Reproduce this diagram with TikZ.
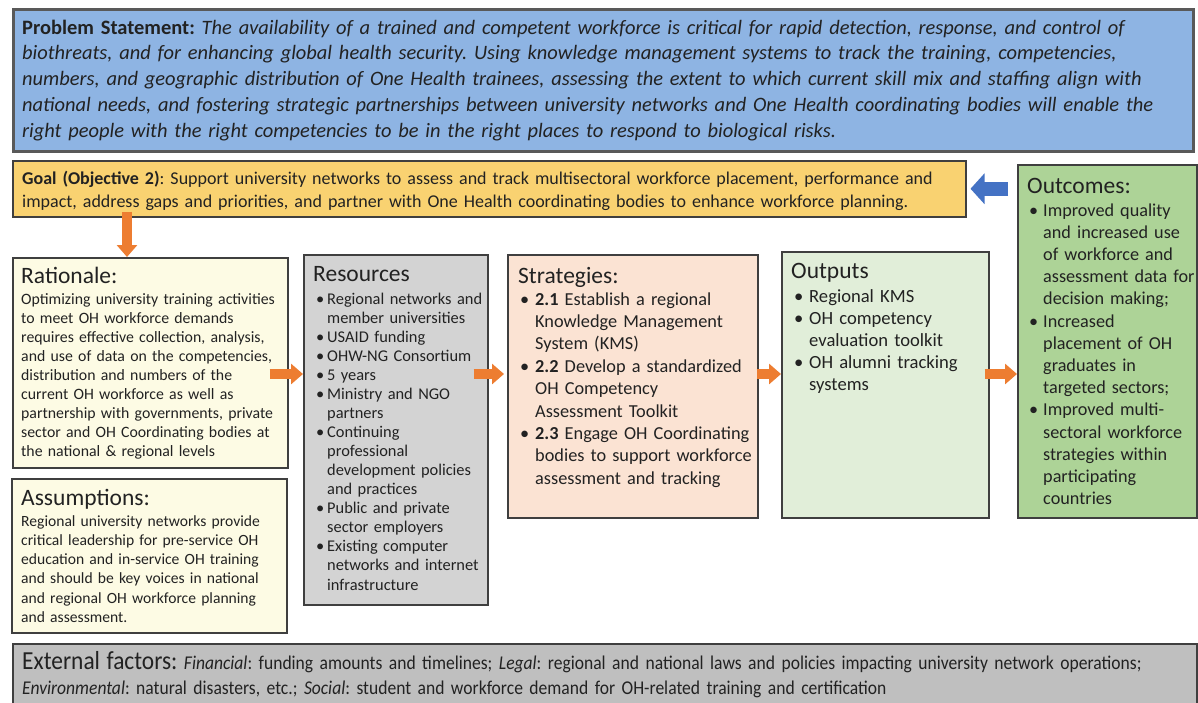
\documentclass[tikz,border=0pt]{standalone}
\usepackage{fontspec}
\setmainfont{Carlito}
\newfontfamily\narrowfont{Carlito}[FakeStretch=0.9]
\usetikzlibrary{arrows.meta}
\frenchspacing
\hyphenpenalty=10000
\exhyphenpenalty=10000

\definecolor{probfill}{HTML}{8EB4E3}
\definecolor{goalfill}{HTML}{F9D271}
\definecolor{ratfill}{HTML}{FDFBE4}
\definecolor{resfill}{HTML}{D3D3D3}
\definecolor{strfill}{HTML}{FBE3D3}
\definecolor{outfill}{HTML}{E1EED9}
\definecolor{ocfill}{HTML}{ADD397}
\definecolor{extfill}{HTML}{BFBFBF}
\definecolor{arrorange}{HTML}{ED7D31}
\definecolor{arrblue}{HTML}{4472C4}
\definecolor{edgecol}{HTML}{3F3F3F}
\definecolor{inkcol}{HTML}{222222}

% bullet item with hanging indent; \\ inside an item breaks the line only
\newcommand{\bul}[2][15pt]{\hangindent=#1\hangafter=1\noindent\makebox[#1][l]{\textbullet}{\let\\\newline #2}\par}

\tikzset{
  panel/.style={draw=edgecol, line width=1.5pt, inner sep=0pt, anchor=north west},
  txt/.style={inner sep=0pt, anchor=base west, align=left, text=inkcol},
  headtxt/.style={txt, font=\fontsize{23.5}{26}\selectfont},
  bodytxt/.style={txt, text width=#1},
  flowarrow/.style={draw=arrorange, line width=10pt,
    -{Triangle[width=20pt,length=12pt]}},
  backarrow/.style={draw=arrblue, line width=14pt,
    -{Triangle[width=30pt,length=14pt]}}
}

\begin{document}
\begin{tikzpicture}[x=1pt,y=-1pt]
\useasboundingbox (0,0) rectangle (1198,702);
\fill[white] (0,0) rectangle (1198,702);

% ---------- boxes ----------
\node[panel, draw=black!65, line width=2.5pt, fill=probfill, minimum width=1180pt, minimum height=142pt] (prob) at (12,8) {};
\node[panel, fill=goalfill, minimum width=953pt, minimum height=56pt] (goal) at (12,160) {};
\node[panel, fill=ocfill, minimum width=179pt, minimum height=353pt] (oc) at (1017,164) {};
\node[panel, fill=ratfill, minimum width=275pt, minimum height=210pt] (rat) at (12,257) {};
\node[panel, fill=ratfill, minimum width=275pt, minimum height=154pt] (ass) at (11,478) {};
\node[panel, fill=resfill, minimum width=184pt, minimum height=350pt] (res) at (303,254) {};
\node[panel, fill=strfill, minimum width=250pt, minimum height=263pt] (str) at (507,254) {};
\node[panel, fill=outfill, minimum width=207pt, minimum height=266pt] (out) at (781,251) {};
\node[panel, fill=extfill, minimum width=1184pt, minimum height=62pt] (ext) at (12,643) {};

% ---------- problem statement ----------
\node[bodytxt=1175pt, font=\fontsize{20.45}{25.8}\selectfont] (probtext) at (22,34)
{\textbf{Problem Statement:} \textit{The availability of a trained and competent workforce is critical for rapid detection, response, and control of}\\
\textit{biothreats, and for enhancing global health security. Using knowledge management systems to track the training, competencies,}\\
\textit{numbers, and geographic distribution of One Health trainees, assessing the extent to which current skill mix and staffing align with}\\
\textit{national needs, and fostering strategic partnerships between university networks and One Health coordinating bodies will enable the}\\
\textit{right people with the right competencies to be in the right places to respond to biological risks.}};

% ---------- goal ----------
\node[bodytxt=950pt, font=\fontsize{18}{23}\selectfont] (goaltext) at (22,184)
{\textbf{Goal (Objective 2)}: Support university networks to assess and track multisectoral workforce placement, performance and\\
impact, address gaps and priorities, and partner with One Health coordinating bodies to enhance workforce planning.};

% ---------- rationale ----------
\node[headtxt] (rathead) at (21,283) {Rationale:};
\node[bodytxt=290pt, font=\fontsize{15.8}{19.1}\selectfont] (ratbody) at (21,304)
{Optimizing university training activities\\
to meet OH workforce demands\\
requires effective collection, analysis,\\
and use of data on the competencies,\\
distribution and numbers of the\\
current OH workforce as well as\\
partnership with governments, private\\
sector and OH Coordinating bodies at\\
the national \& regional levels};

% ---------- assumptions ----------
\node[headtxt] (asshead) at (21,505) {Assumptions:};
\node[bodytxt=290pt, font=\fontsize{15.6}{19.3}\selectfont] (assbody) at (21,526)
{Regional university networks provide\\
critical leadership for pre-service OH\\
education and in-service OH training\\
and should be key voices in national\\
and regional OH workforce planning\\
and assessment.};

% ---------- resources ----------
\node[headtxt] (reshead) at (313,281) {Resources};
\node[bodytxt=220pt, font=\fontsize{16.4}{19.07}\selectfont] (resbody) at (316,304)
{\bul[11pt]{Regional networks and\\member universities}
\bul[11pt]{USAID funding}
\bul[11pt]{OHW-NG Consortium}
\bul[11pt]{5 years}
\bul[11pt]{Ministry and NGO\\partners}
\bul[11pt]{Continuing\\professional\\development policies\\and practices}
\bul[11pt]{Public and private\\sector employers}
\bul[11pt]{Existing computer\\networks and internet\\infrastructure}};

% ---------- strategies ----------
\node[headtxt] (strhead) at (518,283) {Strategies:};
\node[bodytxt=300pt, font=\fontsize{18.3}{22.4}\selectfont] (strbody) at (520,305)
{\bul{\textbf{2.1} Establish a regional\\Knowledge Management\\System (KMS)}
\bul{\textbf{2.2} Develop a standardized\\OH Competency\\Assessment Toolkit}
\bul{\textbf{2.3} Engage OH Coordinating\\bodies to support workforce\\assessment and tracking}};

% ---------- outputs ----------
\node[headtxt] (outhead) at (791,278) {Outputs};
\node[bodytxt=260pt, font=\fontsize{18.6}{22}\selectfont] (outbody) at (794,302)
{\bul{Regional KMS}
\bul{OH competency\\evaluation toolkit}
\bul{OH alumni tracking\\systems}};

% ---------- outcomes ----------
\node[headtxt] (ochead) at (1027,193) {Outcomes:};
\node[bodytxt=230pt, font=\fontsize{18.2}{22.2}\selectfont] (ocbody) at (1029,216)
{\bul[14pt]{Improved quality\\and increased use\\of workforce and\\assessment data for\\decision making;}
\bul[14pt]{Increased\\placement of OH\\graduates in\\targeted sectors;}
\bul[14pt]{Improved multi-\\sectoral workforce\\strategies within\\participating\\countries}};

% ---------- external factors ----------
\node[bodytxt=1180pt, font=\narrowfont\fontsize{19.5}{25}\selectfont] (exttext) at (22,669)
{{\fontsize{26}{25}\selectfont External factors:} \textit{Financial}: funding amounts and timelines; \textit{Legal}: regional and national laws and policies impacting university network operations;\\
\textit{Environmental}: natural disasters, etc.; \textit{Social}: student and workforce demand for OH-related training and certification};

% ---------- connectors ----------
\coordinate (row) at (0,374);
\draw[flowarrow, shorten <=-6pt] ([xshift=115pt]goal.south west) -- ([xshift=115pt]rat.north west);
\draw[flowarrow, shorten <=-19pt, shorten >=0pt] (rat.east |- row) -- (res.west |- row);
\draw[flowarrow, shorten <=-15pt, shorten >=3pt] (res.east |- row) -- (str.west |- row);
\draw[flowarrow, shorten <=-2pt, shorten >=0pt] (str.east |- row) -- (out.west |- row);
\draw[flowarrow, shorten <=-5pt, shorten >=0pt] (out.east |- row) -- (oc.west |- row);
\draw[backarrow, shorten <=9pt, shorten >=4pt] (oc.west |- goal.east) -- (goal.east);
\end{tikzpicture}
\end{document}
